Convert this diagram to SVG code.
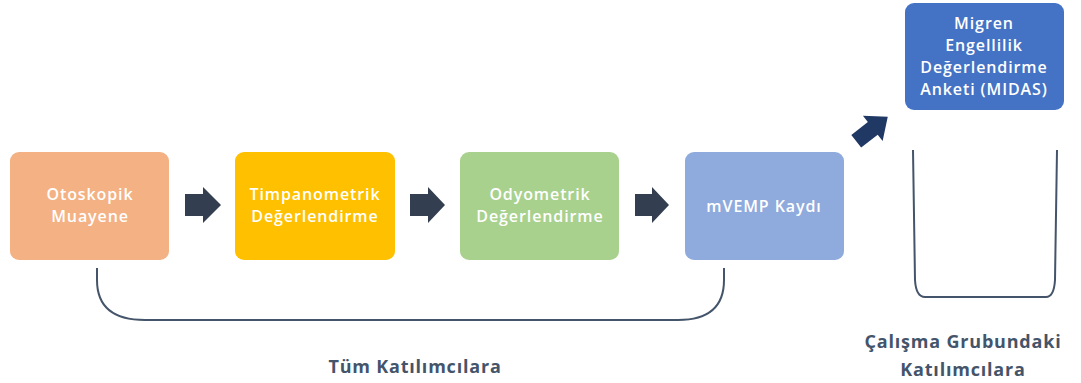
<svg xmlns="http://www.w3.org/2000/svg" width="1081" height="383" viewBox="0 0 1081 383">
<style>
.box{stroke:none}
.t{font-family:"Open Sans","Liberation Sans",sans-serif;font-size:16px;font-weight:600;letter-spacing:0.9px;fill:#ffffff;text-anchor:middle}
.lbl{font-family:"Open Sans","Liberation Sans",sans-serif;font-size:18px;font-weight:bold;letter-spacing:0.8px;fill:#44546a;text-anchor:middle}
.br{fill:none;stroke:#44546a;stroke-width:2}
.arr{fill:#333f50}
</style>
<rect width="1081" height="383" fill="#ffffff"/>
<g id="n1"><rect class="box" x="10" y="152" width="159" height="108" rx="9" fill="#f4b183"/>
<text class="t" x="90" y="200">Otoskopik</text><text class="t" x="90" y="222">Muayene</text></g>
<g id="n2"><rect class="box" x="235" y="152" width="160" height="108" rx="9" fill="#ffc000"/>
<text class="t" x="315" y="200">Timpanometrik</text><text class="t" x="315" y="222">Değerlendirme</text></g>
<g id="n3"><rect class="box" x="460" y="152" width="159" height="108" rx="9" fill="#a9d18e"/>
<text class="t" x="540" y="200">Odyometrik</text><text class="t" x="540" y="222">Değerlendirme</text></g>
<g id="n4"><rect class="box" x="685" y="152" width="159" height="108" rx="9" fill="#8faadc"/>
<text class="t" x="764" y="212">mVEMP Kaydı</text></g>
<g id="n5"><rect class="box" x="905" y="3" width="159" height="107" rx="9" fill="#4472c4"/>
<text class="t" x="984" y="29">Migren</text><text class="t" x="984" y="51">Engellilik</text><text class="t" x="984" y="73">Değerlendirme</text><text class="t" x="984" y="95">Anketi (MIDAS)</text></g>
<g id="connectors">
<path class="arr" d="M185,194 H203 V187 L221,205 L203,223 V216 H185 Z"/>
<path class="arr" d="M410,194 H428 V187 L445,205 L428,223 V216 H410 Z"/>
<path class="arr" d="M635,194 H652 V187 L669,205 L652,223 V216 H635 Z"/>
<path fill="#203864" transform="translate(872,129) rotate(-38)" d="M-20,-8 H1 V-16 L20,0 L1,16 V8 H-20 Z"/>
<path class="br" d="M97,268 V280 Q97,320 145,320 H678 Q724,320 724,280 V268"/>
<path class="br" d="M913,150 L915,280 Q916,297 925,297 H1046 Q1054,297 1055,280 L1057,150"/>
</g>
<g id="labels">
<text class="lbl" x="415" y="373">Tüm Katılımcılara</text>
<text class="lbl" x="963" y="348">Çalışma Grubundaki</text>
<text class="lbl" x="963" y="376">Katılımcılara</text>
</g>
</svg>
